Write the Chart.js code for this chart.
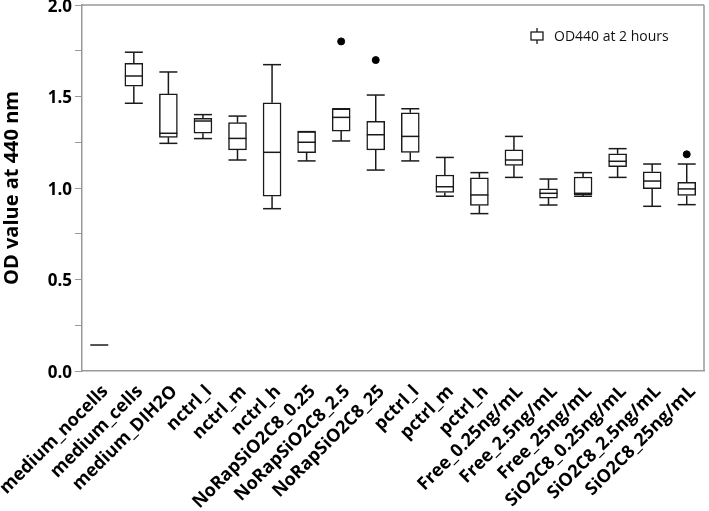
<!DOCTYPE html>
<html>
<head>
<meta charset="utf-8">
<script src="https://cdn.jsdelivr.net/npm/chart.js@4"></script>
<style>
  body { margin: 0; background: #fff; }
  #wrap { width: 709px; height: 511px; position: relative; }
</style>
</head>
<body>
<div id="wrap"><canvas id="grafico"></canvas></div>
<script>
// datos
const grupos = ["medium_nocells", "medium_cells", "medium_DIH2O", "nctrl_l", "nctrl_m", "nctrl_h",
  "NoRapSiO2C8_0.25", "NoRapSiO2C8_2.5", "NoRapSiO2C8_25", "pctrl_l", "pctrl_m", "pctrl_h",
  "Free_0.25ng/mL", "Free_2.5ng/mL", "Free_25ng/mL", "SiO2C8_0.25ng/mL", "SiO2C8_2.5ng/mL", "SiO2C8_25ng/mL"];
const bigoteBajo = [0.142, 1.463, 1.244, 1.270, 1.153, 0.887, 1.148, 1.257, 1.098, 1.148, 0.955, 0.860, 1.058, 0.907, 0.955, 1.058, 0.900, 0.909];
const q1 =        [0.142, 1.556, 1.277, 1.299, 1.208, 0.955, 1.193, 1.311, 1.208, 1.195, 0.976, 0.905, 1.124, 0.945, 0.963, 1.117, 0.996, 0.959];
const mediana =   [0.142, 1.612, 1.299, 1.366, 1.271, 1.195, 1.250, 1.386, 1.291, 1.282, 1.007, 0.962, 1.153, 0.971, 0.971, 1.146, 1.038, 0.995];
const q3 =        [0.142, 1.681, 1.514, 1.381, 1.357, 1.466, 1.308, 1.433, 1.364, 1.411, 1.071, 1.056, 1.208, 0.996, 1.060, 1.187, 1.089, 1.031];
const bigoteAlto = [0.142, 1.742, 1.634, 1.401, 1.393, 1.674, 1.308, 1.433, 1.508, 1.433, 1.167, 1.084, 1.282, 1.049, 1.084, 1.215, 1.131, 1.131];
const atipicos =  [null, null, null, null, null, null, null, 1.801, 1.699, null, null, null, null, null, null, null, null, 1.184];
const etiquetaSerie = "OD440 at 2 hours";

const fuente = "'Open Sans', 'DejaVu Sans', sans-serif";

// 👉 bigotes, medianas, marco y leyenda
const cajaPlugin = {
  id: "cajas",
  afterDatasetsDraw(chart) {
    const { ctx, chartArea } = chart;
    const y = chart.scales.y;
    const meta = chart.getDatasetMeta(0);
    ctx.save();
    ctx.strokeStyle = "#1a1a1a";
    ctx.lineWidth = 1.5;
    const linea = (x1, y1, x2, y2) => {
      ctx.beginPath(); ctx.moveTo(x1, y1); ctx.lineTo(x2, y2); ctx.stroke();
    };
    meta.data.forEach((bar, i) => {
      const x = bar.x, m = bar.width / 2;
      const yMed = y.getPixelForValue(mediana[i]);
      linea(x - m, yMed, x + m, yMed);
      const yAlto = y.getPixelForValue(bigoteAlto[i]), yQ3 = y.getPixelForValue(q3[i]);
      const yBajo = y.getPixelForValue(bigoteBajo[i]), yQ1 = y.getPixelForValue(q1[i]);
      if (i > 0) {
        linea(x, yQ3, x, yAlto); linea(x - m, yAlto, x + m, yAlto);
        linea(x, yQ1, x, yBajo); linea(x - m, yBajo, x + m, yBajo);
      }
    });
    // marco superior y derecho
    ctx.strokeStyle = "#999";
    linea(chartArea.left, chartArea.top, chartArea.right, chartArea.top);
    linea(chartArea.right, chartArea.top, chartArea.right, chartArea.bottom);
    // leyenda
    const lx = chartArea.right - 173, ly = 36;
    ctx.strokeStyle = "#1a1a1a";
    ctx.lineWidth = 1.3;
    ctx.strokeRect(lx, ly - 4, 12, 8);
    linea(lx + 6, ly - 8, lx + 6, ly - 4);
    linea(lx + 6, ly + 4, lx + 6, ly + 8);
    ctx.fillStyle = "#111";
    ctx.font = "14px " + fuente;
    ctx.textBaseline = "middle";
    ctx.fillText(etiquetaSerie, lx + 23, ly + 1);
    ctx.restore();
  }
};

new Chart(document.getElementById("grafico"), {
  type: "bar",
  data: {
    labels: grupos,
    datasets: [
      {
        label: etiquetaSerie,
        data: q1.map((v, i) => [v, q3[i]]),
        backgroundColor: "#fff",
        borderColor: "#1a1a1a",
        borderWidth: 1.5,
        borderSkipped: false,
        barThickness: 18
      },
      {
        type: "line",
        label: "atípicos",
        data: atipicos,
        showLine: false,
        pointRadius: 3.5,
        pointBackgroundColor: "#000",
        pointBorderColor: "#000"
      }
    ]
  },
  options: {
    responsive: true,
    maintainAspectRatio: false,
    animation: false,
    layout: { padding: { top: 5, right: 2 } },
    plugins: { legend: { display: false }, tooltip: { enabled: false } },
    scales: {
      x: {
        grid: { display: false },
        border: { color: "#999", width: 1.5 },
        ticks: {
          autoSkip: false, minRotation: 45, maxRotation: 45, padding: 2, labelOffset: 6,
          color: "#000", font: { family: fuente, size: 18, weight: "bold" }
        },
        afterFit: s => { s.height = 140; s.paddingLeft = 0; s.paddingRight = 0; }
      },
      y: {
        min: 0, max: 2,
        border: { color: "#999", width: 1.5 },
        grid: { drawOnChartArea: false, color: "#999", tickLength: 7 },
        ticks: {
          stepSize: 0.25, padding: 3, labelOffset: 2, color: "#000",
          font: { family: fuente, size: 17, weight: "bold" },
          callback: v => (Math.abs(v * 2 - Math.round(v * 2)) < 1e-6 ? v.toFixed(1) : "")
        },
        title: {
          display: true, text: "OD value at 440 nm", color: "#000", padding: 0,
          font: { family: fuente, size: 20, weight: "bold" }
        },
        afterFit: s => { s.width = 82; s.paddingTop = 0; s.paddingBottom = 0; }
      }
    }
  },
  plugins: [cajaPlugin]
});
</script>
</body>
</html>
